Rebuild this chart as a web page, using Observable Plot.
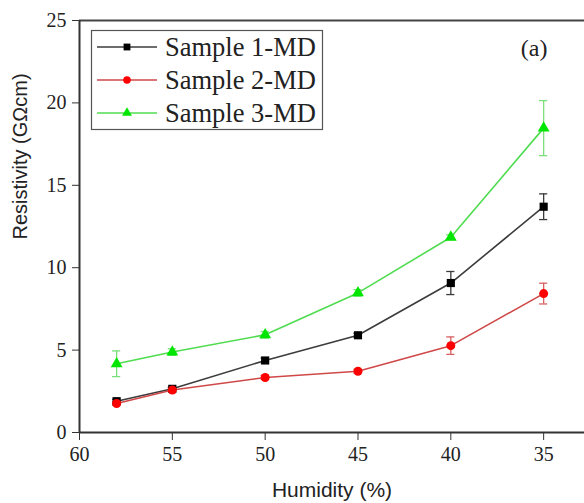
<!DOCTYPE html>
<html>
<head>
<meta charset="utf-8">
<script src="https://cdn.jsdelivr.net/npm/d3@7"></script>
<script src="https://cdn.jsdelivr.net/npm/@observablehq/plot@0.6"></script>
<style>
  html, body { margin: 0; padding: 0; background: #fff; }
  #chart { width: 584px; height: 503px; }
</style>
</head>
<body>
<div id="chart"></div>
<script>
// Resistivity of three membrane samples versus relative humidity
const humidity = [58, 55, 50, 45, 40, 35];
const sample1 = [1.9, 2.65, 4.37, 5.9, 9.07, 13.7];
const sample1Err = [0.12, 0.1, 0.15, 0.12, 0.7, 0.78];
const sample2 = [1.76, 2.58, 3.34, 3.72, 5.27, 8.43];
const sample2Err = [0.1, 0.1, 0.12, 0.12, 0.53, 0.63];
const sample3 = [4.17, 4.88, 5.93, 8.47, 11.85, 18.47];
const sample3Err = [0.78, 0.2, 0.2, 0.2, 0.15, 1.67];

const seriesNames = ["Sample 1-MD", "Sample 2-MD", "Sample 3-MD"];
const xTicks = [60, 55, 50, 45, 40, 35];
const yTicks = [0, 5, 10, 15, 20, 25];

const serif = "Liberation Serif, Times New Roman, serif";
const sans = "Liberation Sans, Arial, sans-serif";

const styles = [
  {line: "#3c3c3c", err: "#3c3c3c", fill: "#000000", symbol: "square", r: 4.6},
  {line: "#d04848", err: "#d86060", fill: "#ff0000", symbol: "circle", r: 4.5},
  {line: "#50dc50", err: "#7be07b", fill: "#00e600", symbol: "triangle", r: 4.4}
];

const values = [sample1, sample2, sample3];
const errors = [sample1Err, sample2Err, sample3Err];
const series = seriesNames.map((name, i) => ({
  name,
  style: styles[i],
  rows: humidity.map((h, j) => ({h, y: values[i][j], e: errors[i][j]}))
}));

const capHalf = 0.22; // half-width of the error-bar caps, in humidity units

const marks = [];
for (const s of series) {
  const c = s.style;
  marks.push(
    Plot.ruleX(s.rows, {x: "h", y1: d => d.y - d.e, y2: d => d.y + d.e, stroke: c.err, strokeWidth: 1.3}),
    Plot.ruleY(s.rows, {y: d => d.y + d.e, x1: d => d.h + capHalf, x2: d => d.h - capHalf, stroke: c.err, strokeWidth: 1.3}),
    Plot.ruleY(s.rows, {y: d => d.y - d.e, x1: d => d.h + capHalf, x2: d => d.h - capHalf, stroke: c.err, strokeWidth: 1.3}),
    Plot.line(s.rows, {x: "h", y: "y", stroke: c.line, strokeWidth: 1.6})
  );
}
for (const s of series) {
  const c = s.style;
  marks.push(Plot.dot(s.rows, {x: "h", y: "y", symbol: () => c.symbol, r: c.r, fill: c.fill, stroke: "none"}));
}

const chart = Plot.plot({
  width: 584,
  height: 503,
  marginLeft: 79,
  marginRight: 0,
  marginTop: 20,
  marginBottom: 71,
  style: {fontFamily: serif, fontSize: "20px", color: "#222", background: "#fff"},
  x: {domain: [60, 32.8]},
  y: {domain: [0, 25]},
  symbol: {type: "identity"},
  marks: [
    // tick lines only; tick labels are separate text marks below
    Plot.axisX(xTicks, {tickSize: 8, tickFormat: () => "", label: null, stroke: "#333"}),
    Plot.axisY(yTicks, {tickSize: 7, tickFormat: () => "", label: null, stroke: "#333"}),
    Plot.text(xTicks, {x: d => d, text: d => String(d), frameAnchor: "bottom", dy: 28, fontSize: 20, fontFamily: serif, fill: "#222"}),
    Plot.text(yTicks, {y: d => d, text: d => String(d), frameAnchor: "left", dx: -13, textAnchor: "end", fontSize: 20, fontFamily: serif, fill: "#222"}),
    ...marks,
    Plot.ruleY([25], {stroke: "#444", strokeWidth: 2}),
    Plot.ruleY([0], {stroke: "#333", strokeWidth: 2}),
    Plot.ruleX([60], {stroke: "#333", strokeWidth: 2}),
    Plot.text(["(a)"], {frameAnchor: "top-right", dx: -37, dy: 18, fontSize: 24, fontFamily: serif, fill: "#222"}),
    Plot.text(["Humidity (%)"], {frameAnchor: "bottom", dy: 64, fontSize: 21, fontFamily: sans, fill: "#222"}),
    Plot.text(["Resistivity (GΩcm)"], {frameAnchor: "left", dx: -59, dy: 13, rotate: -90, fontSize: 20, fontFamily: sans, fill: "#222"})
  ]
});

document.getElementById("chart").append(chart);

// Legend box in the upper-left corner of the frame
const svg = d3.select(chart);
const legend = svg.append("g").attr("transform", "translate(91,30)");
legend.append("rect")
  .attr("x", 0.5).attr("y", 0.5)
  .attr("width", 231).attr("height", 99)
  .attr("fill", "#fff").attr("stroke", "#555").attr("stroke-width", 1.2);
const symbolTypes = {square: d3.symbolSquare, circle: d3.symbolCircle, triangle: d3.symbolTriangle};
series.forEach((s, i) => {
  const y = 17 + i * 33;
  const row = legend.append("g").attr("transform", `translate(0,${y})`);
  row.append("line").attr("x1", 6).attr("x2", 66).attr("y1", 0).attr("y2", 0)
    .attr("stroke", s.style.line).attr("stroke-width", 1.5);
  row.append("path")
    .attr("transform", "translate(36,0)")
    .attr("d", d3.symbol(symbolTypes[s.style.symbol], s.style.r * s.style.r * Math.PI * 0.7)())
    .attr("fill", s.style.fill);
  row.append("text").attr("x", 74).attr("y", 0).attr("dy", "0.35em")
    .attr("text-anchor", "start")
    .style("font-family", serif)
    .style("font-size", "26.5px").attr("fill", "#222")
    .text(s.name);
});
</script>
</body>
</html>
